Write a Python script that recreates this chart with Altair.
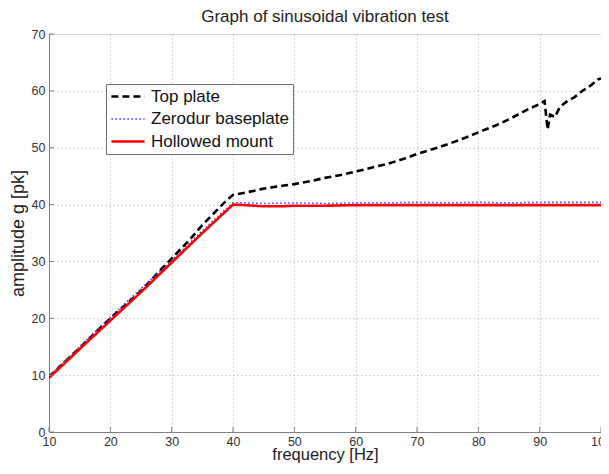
import altair as alt
import pandas as pd

series_names = ["Top plate", "Zerodur baseplate", "Hollowed mount"]

freq_top = [10, 15, 20, 25, 28, 30, 33, 35, 37, 39, 40, 42, 45, 48, 50, 53, 55, 58, 60, 63, 65,
            68, 70, 73, 75, 78, 80, 83, 85, 88, 90, 90.8, 91.3, 91.7, 92.5, 93.3, 94.4, 95.7,
            97.1, 98.4, 99.5, 100]
amp_top = [9.7, 14.8, 20.0, 24.8, 28.3, 30.5, 33.9, 36.4, 38.6, 40.8, 41.7, 42.1, 42.8, 43.3,
           43.6, 44.2, 44.7, 45.3, 45.8, 46.6, 47.1, 48.1, 48.9, 49.9, 50.6, 51.8, 52.7, 54.0,
           55.0, 56.7, 57.7, 58.2, 53.2, 55.8, 55.4, 57.2, 58.1, 58.9, 60.1, 61.0, 62.0, 62.2]

freq_zer = [10, 15, 20, 25, 30, 35, 38, 40, 42, 45, 50, 55, 60, 65, 70, 75, 80, 85, 90, 95, 100]
amp_zer = [9.8, 15.0, 20.2, 25.2, 30.2, 35.4, 38.4, 40.3, 40.3, 40.2, 40.3, 40.2, 40.3, 40.3,
           40.4, 40.3, 40.4, 40.3, 40.4, 40.4, 40.4]

freq_hol = [10, 15, 20, 25, 30, 35, 38, 40, 42, 45, 48, 50, 55, 60, 65, 70, 75, 80, 85, 90, 95, 100]
amp_hol = [9.5, 14.6, 19.6, 24.6, 29.8, 35.0, 38.0, 40.0, 39.9, 39.7, 39.7, 39.8, 39.8, 39.9,
           39.9, 39.9, 39.9, 39.9, 39.9, 39.9, 39.9, 39.9]

x_ticks = [10, 20, 30, 40, 50, 60, 70, 80, 90, 100]
y_ticks = [0, 10, 20, 30, 40, 50, 60, 70]

rows = []
for name, fs, am in [(series_names[0], freq_top, amp_top),
                     (series_names[1], freq_zer, amp_zer),
                     (series_names[2], freq_hol, amp_hol)]:
    for f, a in zip(fs, am):
        rows.append({"freq": f, "amp": a, "series": name})
df = pd.DataFrame(rows)

FONT = "Liberation Sans, Arial, Helvetica, sans-serif"
TICKFONT = "Liberation Sans Narrow, Liberation Sans, Arial, sans-serif"
AX = "#808080"
PW, PH = 552, 398

x_scale = alt.Scale(domain=[10, 100], nice=False, zero=False)
y_scale = alt.Scale(domain=[0, 70], nice=False, zero=False)

x_axis = alt.Axis(values=x_ticks, title="frequency [Hz]", ticks=False,
                  domain=True, domainColor=AX, domainWidth=1,
                  labelFontSize=12.5, titleFontSize=16.5, titleFontWeight="normal",
                  labelPadding=3, titleY=27, titleBaseline="alphabetic",
                  labelFont=TICKFONT, titleFont=FONT,
                  labelColor="#333333", titleColor="#222222",
                  grid=True, gridDash=[1, 3], gridColor="#b0b0b0", labelFlush=False)
y_axis = alt.Axis(values=y_ticks, title="amplitude g [pk]", ticks=False,
                  domain=True, domainColor=AX, domainWidth=1,
                  labelFontSize=12.5, titleFontSize=18, titleFontWeight="normal",
                  labelPadding=4, titlePadding=4, labelFont=TICKFONT, titleFont=FONT,
                  labelColor="#333333", titleColor="#222222",
                  grid=True, gridDash=[1, 3], gridColor="#b0b0b0")

legend = alt.Legend(title=None, orient="none", legendX=57, legendY=50,
                    fillColor="white", strokeColor="#707070", padding=4,
                    labelFontSize=17, labelFont=FONT, labelColor="#111111",
                    symbolType="stroke", symbolSize=1100, symbolStrokeWidth=2.2,
                    clipHeight=17, rowPadding=4.5, labelOffset=5, cornerRadius=0)

lines = alt.Chart(df).mark_line(clip=True).encode(
    x=alt.X("freq:Q", scale=x_scale, axis=x_axis),
    y=alt.Y("amp:Q", scale=y_scale, axis=y_axis),
    color=alt.Color("series:N", sort=series_names,
                    scale=alt.Scale(domain=series_names, range=["#000000", "#3a3aff", "#ff0000"]),
                    legend=legend),
    strokeDash=alt.StrokeDash("series:N", sort=series_names,
                              scale=alt.Scale(domain=series_names, range=[[7, 4], [1.5, 2.5], [1, 0]]),
                              legend=legend),
    strokeWidth=alt.StrokeWidth("series:N", sort=series_names,
                                scale=alt.Scale(type="ordinal", domain=series_names, range=[2.6, 1.5, 2.6]),
                                legend=None),
)

xt = pd.DataFrame({"freq": x_ticks})
yt = pd.DataFrame({"amp": y_ticks})

xticks_layer = alt.Chart(xt).mark_rule(color=AX, strokeWidth=1).encode(
    x=alt.X("freq:Q", scale=x_scale, axis=x_axis),
    y=alt.value(PH), y2=alt.value(PH - 5),
)
yticks_layer = alt.Chart(yt).mark_rule(color=AX, strokeWidth=1).encode(
    y=alt.Y("amp:Q", scale=y_scale, axis=y_axis),
    x=alt.value(0), x2=alt.value(5),
)

chart = alt.layer(lines, xticks_layer, yticks_layer).properties(
    width=PW, height=PH,
    padding={"left": 41, "top": 26, "right": 0, "bottom": 32},
    autosize=alt.AutoSizeParams(type="none"),
    title=alt.Title("Graph of sinusoidal vibration test", fontSize=17, fontWeight="normal",
                    font=FONT, color="#222222", offset=2, anchor="middle"),
).configure_view(strokeWidth=0).configure(background="white")

chart.save("out.html", embed_options={"renderer": "svg", "actions": False})
